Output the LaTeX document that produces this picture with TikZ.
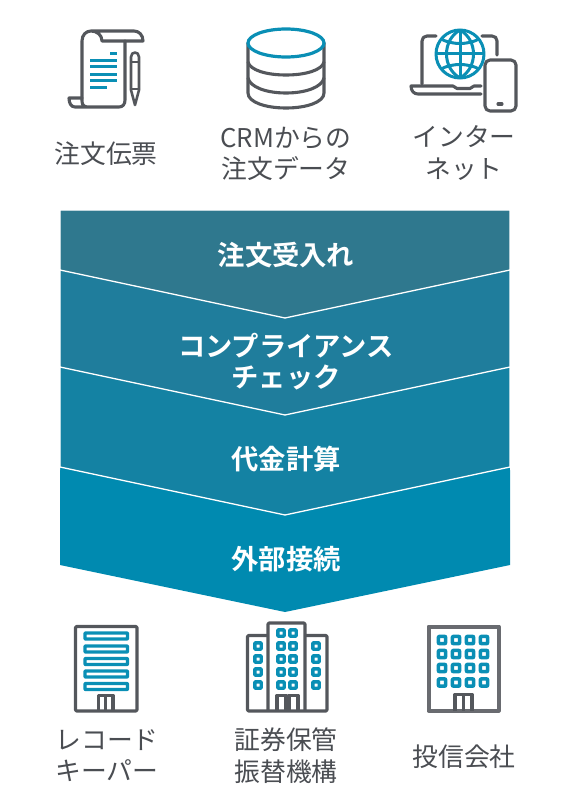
\documentclass[tikz,border=0pt]{standalone}
\usepackage{fontspec}
\setmainfont{Noto Sans CJK JP}
\newfontfamily\jpbold{Noto Sans CJK JP Bold}
\begin{document}
\definecolor{ink}{HTML}{54575C}
\definecolor{tl}{HTML}{0A8FB5}
\definecolor{txt}{HTML}{4A4D52}
\definecolor{bandA}{HTML}{2F788E}
\definecolor{bandB}{HTML}{1F7D9C}
\definecolor{bandC}{HTML}{1482A3}
\definecolor{bandD}{HTML}{008AB0}
\begin{tikzpicture}[x=1pt,y=-1pt,
  line join=round,
  lab/.style={text=txt,font=\fontsize{25.8}{31.5}\selectfont,align=center,inner sep=0pt},
  blab/.style={text=white,font=\fontsize{27.3}{30.5}\selectfont\jpbold,align=center,inner sep=0pt},
  band/.style={draw=white,line width=1.3pt},
  ic/.style={draw=ink,line width=3.1pt,line cap=round},
  it/.style={draw=tl,line width=3pt},
  win/.style={draw=tl,line width=3.4pt,rounded corners=0.6pt}]
\useasboundingbox (0,0) rectangle (576,808);
% bands
\fill[bandD] (60,467) -- (60,565) -- (285,612) -- (510,565) -- (510,467) -- cycle;
\draw[band,fill=bandC] (60,367) -- (60,467) -- (285,515) -- (510,467) -- (510,367) -- cycle;
\draw[band,fill=bandB] (60,270) -- (60,367) -- (285,415) -- (510,367) -- (510,270) -- cycle;
\draw[band,fill=bandA] (60,210) -- (60,270) -- (285,318) -- (510,270) -- (510,210) -- cycle;
\fill[white] (59,209) rectangle (60,470) (510,209) rectangle (511,470) (59,209) rectangle (511,210);
\node[blab] (b1) at (286,255.5) {注文受入れ};
\node[blab] (b2) at (286,361.5) {コンプライアンス\\チェック};
\node[blab] (b3) at (286,459.5) {代金計算};
\node[blab] (b4) at (286,559.5) {外部接続};
% labels
\node[lab] (t1) at (106,154) {注文伝票};
\node[lab] (t2) at (286,154) {CRMからの\\注文データ};
\node[lab] (t3) at (464,153) {インター\\ネット};
\node[lab] (u1) at (107,755.5) {レコード\\キーパー};
\node[lab] (u2) at (286,755.5) {証券保管\\振替機構};
\node[lab] (u3) at (464,756.5) {投信会社};
% document icon
\draw[ic] (82,98) -- (82,41) .. controls (82,35) and (86,31) .. (91,31) .. controls (97,31) and (102,35) .. (102,41) -- (143,41) .. controls (143,35) and (139,31) .. (134,31) -- (91,31);
\draw[ic] (125,41) -- (125,100) .. controls (125,104) and (123,107) .. (119,107) -- (75,107) .. controls (71,107) and (69,103) .. (69,98) -- (82,98) -- (82,101) .. controls (82,105) and (84,107) .. (88,107);
\foreach \y/\a/\b in {53.5/110/117,60.5/90/117,67/90/117,74/90/117,80.5/90/117,87/90/107}
  \draw[it] (\a,\y) -- (\b,\y);
\draw[ic,line width=2.6pt] (131,57) .. controls (131,51) and (139,51) .. (139,57) -- (139,90) -- (135,105) -- (131,90) -- cycle;
\draw[ic,line width=2.4pt] (131,62) -- (139,62) (131,89) -- (139,89);
% database
\draw[ic] (248,43) -- (248,93) .. controls (248,102) and (265,108) .. (286,108) .. controls (307,108) and (324,102) .. (324,93) -- (324,43);
\draw[ic] (248,62) .. controls (250,70) and (266,75) .. (286,75) .. controls (306,75) and (322,70) .. (324,62);
\draw[ic] (248,78) .. controls (250,87) and (266,93) .. (286,93) .. controls (306,93) and (322,87) .. (324,78);
\draw[tl,line width=3.2pt,fill=white] (286,43) ellipse [x radius=38,y radius=14];
% laptop
\draw[ic] (436,36) -- (427,36) .. controls (424,36) and (422,38) .. (422,41) -- (422,84);
\draw[ic] (482,36) -- (492,36) .. controls (495,36) and (497,38) .. (497,41) -- (497,55);
\draw[ic] (481,86) -- (474,86) -- (470,88.5) -- (457,88.5) -- (453,86) -- (411,86) .. controls (411,91) and (414,94) .. (418,94) -- (481,94);
\draw[ic,rounded corners=5pt] (485,60) rectangle (516,111);
\draw[ic] (498,104) -- (502,104);
% globe
\draw[it] (460,54) circle [radius=24];
\draw[it] (460,30) -- (460,78) (436,54) -- (484,54);
\draw[it] (460,30) .. controls (442,40) and (442,68) .. (460,78);
\draw[it] (460,30) .. controls (478,40) and (478,68) .. (460,78);
\draw[it] (441,39) .. controls (452,45) and (468,45) .. (479,39);
\draw[it] (441,69) .. controls (452,63) and (468,63) .. (479,69);
% building 1
\draw[ic,line cap=butt,rounded corners=1pt] (75.5,626.5) rectangle (137,711);
\foreach \y in {636,649,661.5,674,686.5}
  \draw[win] (85,\y-3) rectangle (127.5,\y+3);
\draw[ic,line cap=butt] (98.5,711) -- (98.5,695.5) -- (113,695.5) -- (113,711) (105.8,695.5) -- (105.8,711);
% building 2
\draw[ic,line cap=butt,rounded corners=1pt] (268,711) -- (268,623) -- (305,623) -- (305,711);
\draw[ic,line cap=butt,rounded corners=1pt] (268,635.5) -- (247.5,635.5) -- (247.5,711) -- (327,711) -- (327,635.5) -- (305,635.5);
\foreach \x/\yy in {258/{646,659,672,685},281/{633,646,659,672,685},293/{633,646,659,672,685},316/{646,659,672,685}}
  \foreach \y in \yy
    \draw[win] (\x-3.2,\y-3.2) rectangle (\x+3.2,\y+3.2);
\draw[ic,line cap=butt] (277,711) -- (277,695.5) -- (286,695.5) -- (286,711) (289,711) -- (289,695.5) -- (298,695.5) -- (298,711);
% building 3
\draw[draw=ink!88!white,line width=4pt] (428.5,626.5) rectangle (498.5,710.5);
\foreach \x in {442,456,470,484}
  \foreach \y in {640,654,668,682.5}
    \draw[win] (\x-3.6,\y-3.6) rectangle (\x+3.6,\y+3.6);
\draw[ic,line cap=butt] (455,711) -- (455,694.5) -- (472,694.5) -- (472,711) (463.5,694.5) -- (463.5,711);
\end{tikzpicture}
\end{document}
